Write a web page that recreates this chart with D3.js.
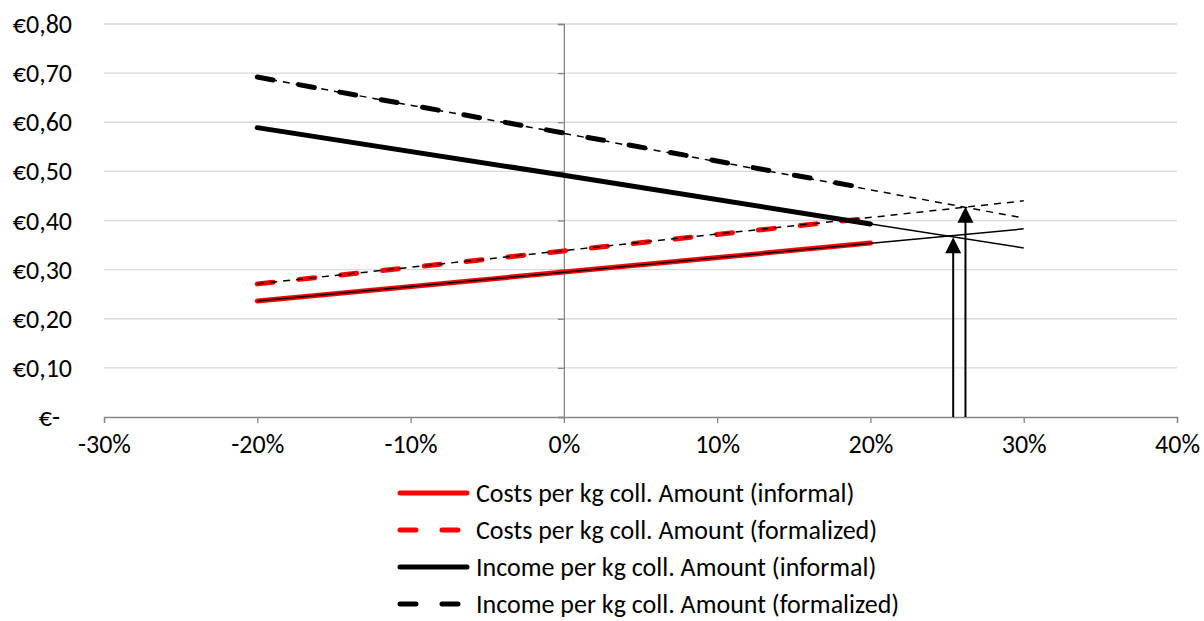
<!DOCTYPE html>
<html><head><meta charset="utf-8">
<script src="https://cdnjs.cloudflare.com/ajax/libs/d3/7.8.5/d3.min.js"></script>
<style>body{margin:0;background:#fff}svg{display:block}</style>
</head><body><svg id="c" width="1204" height="621"></svg>
<script>
const xTicks = [-0.30,-0.20,-0.10,0,0.10,0.20,0.30,0.40];
const yTicks = [0,0.1,0.2,0.3,0.4,0.5,0.6,0.7,0.8];
const xData = [-0.20, 0, 0.20];
const xExt = [-0.20, 0.30];
const costsInformal = [0.236, 0.295, 0.354];
const costsFormal = [0.271, 0.338, 0.405];
const incomeInformal = [0.589, 0.492, 0.393];
const incomeFormal = [0.692, 0.578, 0.464];
const costsInformalTrend = [0.236, 0.383];
const costsFormalTrend = [0.271, 0.440];
const incomeInformalTrend = [0.589, 0.344];
const incomeFormalTrend = [0.692, 0.405];
const arrowX = [0.254, 0.262];
const arrowY = [0.366, 0.428];
const seriesNames = ["Costs per kg coll. Amount (informal)","Costs per kg coll. Amount (formalized)","Income per kg coll. Amount (informal)","Income per kg coll. Amount (formalized)"];

const svg = d3.select("#c");
const x = d3.scaleLinear().domain([-0.30,0.40]).range([104,1177]);
const y = d3.scaleLinear().domain([0,0.8]).range([417,24]);
const font = "Carlito, Calibri, 'Open Sans', sans-serif";
const fs = 26;

// gridlines
svg.append("g").selectAll("line").data(yTicks.filter(d=>d>0)).join("line")
  .attr("x1",x(-0.30)).attr("x2",x(0.40)).attr("y1",d=>y(d)).attr("y2",d=>y(d))
  .attr("stroke","#d9d9d9").attr("stroke-width",1.3);

// x axis
const xAxis = d3.axisBottom(x).tickValues(xTicks).tickSize(6).tickFormat(d=>d3.format(".0%")(d));
const gx = svg.append("g").attr("transform",`translate(0,${y(0)})`).call(xAxis);
gx.select(".domain").attr("stroke","#868686").attr("stroke-width",1.3);
gx.selectAll(".tick line").attr("stroke","#868686").attr("stroke-width",1.3);
gx.selectAll(".tick text").attr("font-family",font).attr("font-size",fs).attr("fill","#000")
  .attr("y",27).attr("dy","0.35em")
  .text(d=>d3.format(".0%")(d).replace("−","-"));

// y axis at x=0
const yAxis = d3.axisLeft(y).tickValues(yTicks).tickSize(6).tickFormat("");
const gy = svg.append("g").attr("transform",`translate(${x(0)},0)`).call(yAxis);
gy.select(".domain").attr("stroke","#868686").attr("stroke-width",1.3);
gy.selectAll(".tick line").attr("stroke","#868686").attr("stroke-width",1.3);

// y labels at left
svg.append("g").selectAll("text").data(yTicks).join("text")
  .attr("x",d=>d===0?60:72).attr("y",d=>y(d)).attr("dy","0.35em").attr("text-anchor","end")
  .attr("font-family",font).attr("font-size",fs)
  .text(d=>d===0?"€-":"€"+d.toFixed(2).replace(".",","));

const line = d3.line().x(d=>x(d[0])).y(d=>y(d[1]));
function draw(xs, vs, color, w, dash, cap){
  svg.append("path").attr("d",line(xs.map((v,i)=>[v,vs[i]])))
    .attr("fill","none").attr("stroke",color).attr("stroke-width",w)
    .attr("stroke-dasharray",dash||null).attr("stroke-linecap",cap||"round");
}
// thick series
draw(xData, costsInformal, "#ff0000", 5);
draw(xData, costsFormal, "#ff0000", 5, "16,26");
draw(xData, incomeInformal, "#000", 5);
draw(xData, incomeFormal, "#000", 5, "16,26");
// thin trend lines
draw(xExt, costsInformalTrend, "#000", 1.5, null, "butt");
draw(xExt, costsFormalTrend, "#000", 1.5, "7,6", "butt");
draw(xExt, incomeInformalTrend, "#000", 1.5, null, "butt");
draw(xExt, incomeFormalTrend, "#000", 1.5, "7,6", "butt");

// arrows
arrowX.forEach((ax,i)=>{
  const px = x(ax), tip = y(arrowY[i]);
  svg.append("line").attr("x1",px).attr("x2",px).attr("y1",y(0)).attr("y2",tip+10)
    .attr("stroke","#000").attr("stroke-width",2);
  svg.append("path").attr("d",`M${px},${tip} L${px-8},${tip+16} L${px+8},${tip+16} Z`).attr("fill","#000");
});

// legend
const lg = svg.append("g");
const styles = [["#ff0000",null],["#ff0000","16,26"],["#000",null],["#000","16,26"]];
seriesNames.forEach((n,i)=>{
  const ly = 493 + i*37;
  lg.append("line").attr("x1",400).attr("x2",467).attr("y1",ly).attr("y2",ly)
    .attr("stroke",styles[i][0]).attr("stroke-width",5).attr("stroke-linecap","round")
    .attr("stroke-dasharray",styles[i][1]);
  lg.append("text").attr("x",476).attr("y",ly).attr("dy","0.35em")
    .attr("font-family",font).attr("font-size",fs).text(n);
});
</script></body></html>
